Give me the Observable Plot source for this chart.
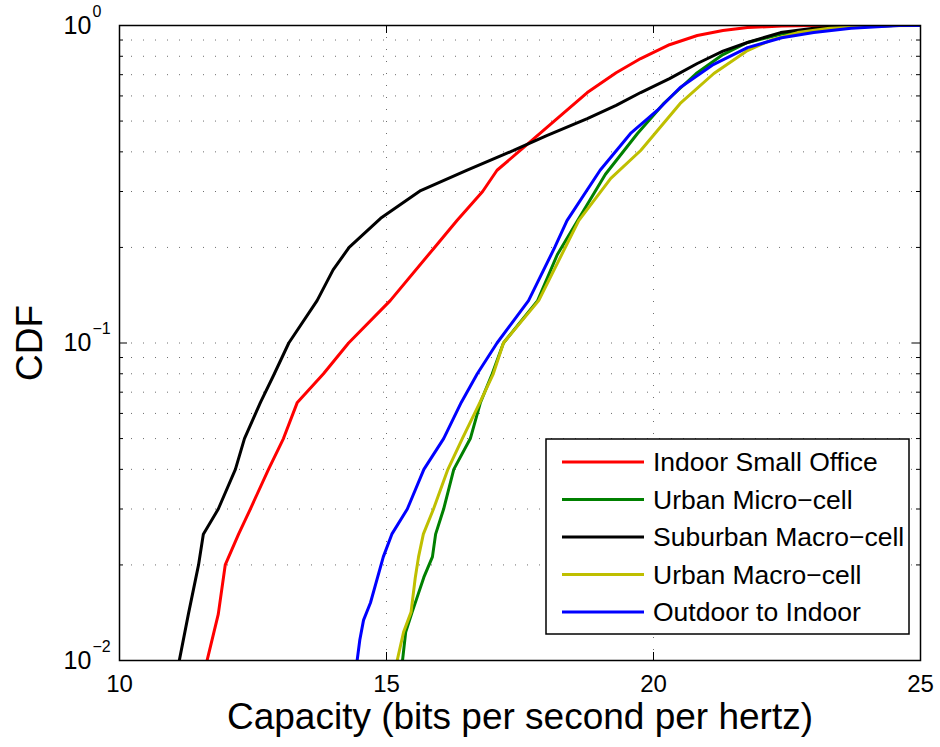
<!DOCTYPE html>
<html>
<head>
<meta charset="utf-8">
<script src="https://cdn.jsdelivr.net/npm/d3@7"></script>
<script src="https://cdn.jsdelivr.net/npm/@observablehq/plot@0.6"></script>
<style>
  html, body { margin: 0; padding: 0; background: white; }
</style>
</head>
<body>
<div id="chart"></div>
<script>
const seriesNames = ["Indoor Small Office", "Urban Micro\u2212cell", "Suburban Macro\u2212cell", "Urban Macro\u2212cell", "Outdoor to Indoor"];
const seriesColors = ["#ff0000", "#008000", "#000000", "#bfbf00", "#0000ff"];

// [capacity, CDF]
const indoorSmallOffice = [
  [11.6, 0.009], [11.64, 0.01], [11.85, 0.014], [11.98, 0.02], [12.23, 0.025], [12.45, 0.03],
  [12.79, 0.04], [13.07, 0.05], [13.33, 0.065], [13.82, 0.08], [14.29, 0.1], [15.07, 0.136],
  [15.9, 0.2], [16.32, 0.243], [16.8, 0.3], [17.07, 0.35], [17.57, 0.413], [18.2, 0.51],
  [18.76, 0.615], [19.3, 0.71], [19.76, 0.787], [20.3, 0.87], [20.82, 0.93], [21.3, 0.965],
  [21.76, 0.985], [22.4, 0.997], [23.0, 1.0], [25.0, 1.0]
];
const urbanMicroCell = [
  [15.28, 0.009], [15.3, 0.01], [15.36, 0.0123], [15.48, 0.0142], [15.6, 0.0163], [15.7, 0.0183],
  [15.86, 0.0212], [15.92, 0.025], [16.07, 0.03], [16.26, 0.04], [16.57, 0.05], [16.76, 0.065],
  [16.98, 0.08], [17.19, 0.1], [17.83, 0.136], [18.2, 0.19], [18.58, 0.243], [19.1, 0.34],
  [19.7, 0.457], [20.2, 0.57], [20.8, 0.706], [21.3, 0.81], [21.76, 0.884], [22.4, 0.94],
  [23.0, 0.97], [23.8, 0.99], [24.5, 1.0], [25.0, 1.0]
];
const suburbanMacroCell = [
  [11.05, 0.009], [11.12, 0.01], [11.29, 0.014], [11.48, 0.02], [11.57, 0.025], [11.85, 0.03],
  [12.17, 0.04], [12.34, 0.05], [12.64, 0.065], [12.9, 0.08], [13.17, 0.1], [13.7, 0.136],
  [14.0, 0.17], [14.3, 0.2], [14.89, 0.247], [15.64, 0.302], [16.5, 0.35], [17.38, 0.404],
  [18.0, 0.45], [18.76, 0.509], [19.3, 0.56], [19.76, 0.615], [20.3, 0.68], [20.82, 0.759],
  [21.3, 0.83], [21.76, 0.884], [22.38, 0.95], [23.0, 0.98], [23.7, 0.995], [24.5, 1.0], [25.0, 1.0]
];
const urbanMacroCell = [
  [15.12, 0.0095], [15.2, 0.01], [15.32, 0.0123], [15.46, 0.0142], [15.54, 0.0183], [15.6, 0.0212],
  [15.69, 0.025], [15.88, 0.03], [16.15, 0.04], [16.42, 0.05], [16.75, 0.065], [17.0, 0.08],
  [17.19, 0.1], [17.85, 0.136], [18.6, 0.243], [19.2, 0.33], [19.76, 0.404], [20.5, 0.568],
  [21.13, 0.706], [21.76, 0.834], [22.2, 0.9], [22.7, 0.95], [23.3, 0.98], [24.2, 0.998], [25.0, 1.0]
];
const outdoorToIndoor = [
  [14.43, 0.009], [14.45, 0.01], [14.5, 0.0116], [14.57, 0.0134], [14.7, 0.0152], [14.94, 0.0212],
  [15.1, 0.025], [15.39, 0.03], [15.7, 0.04], [16.07, 0.05], [16.4, 0.065], [16.7, 0.08],
  [17.07, 0.1], [17.66, 0.136], [18.15, 0.2], [18.38, 0.243], [19.0, 0.35], [19.57, 0.457],
  [20.07, 0.54], [20.5, 0.638], [21.1, 0.75], [21.76, 0.852], [22.4, 0.915], [23.0, 0.95],
  [23.7, 0.98], [24.6, 1.0], [25.0, 1.0]
];

const xTicks = [10, 15, 20, 25];
const xGrid = [15, 20];
const yMajor = [1, 0.1, 0.01];
const yExponents = ["0", "\u22121", "\u22122"];
const yMinor = [0.02, 0.03, 0.04, 0.05, 0.06, 0.07, 0.08, 0.09, 0.2, 0.3, 0.4, 0.5, 0.6, 0.7, 0.8, 0.9];
const xLabel = "Capacity (bits per second per hertz)";
const yLabel = "CDF";

const allSeries = [indoorSmallOffice, urbanMicroCell, suburbanMacroCell, urbanMacroCell, outdoorToIndoor];
const rows = allSeries.flatMap((s, i) => s.map(([x, p]) => ({series: seriesNames[i], x, p})));

const W = 940, H = 747, ML = 119, MR = 20, MT = 25, MB = 87;
const FW = W - ML - MR, FH = H - MT - MB;
const font = "'Liberation Sans', Arial, Helvetica, sans-serif";
const gridStyle = {stroke: "#6e6e6e", strokeWidth: 1, strokeDasharray: "1,11"};

const chart = Plot.plot({
  width: W, height: H,
  marginLeft: ML, marginRight: MR, marginTop: MT, marginBottom: MB,
  style: {fontFamily: font, background: "white", overflow: "visible", color: "black"},
  x: {domain: [10, 25], axis: null},
  y: {type: "log", domain: [0.01, 1], axis: null},
  color: {domain: seriesNames, range: seriesColors},
  marks: [
    Plot.ruleX(xGrid, gridStyle),
    Plot.ruleY([...yMinor, 0.1], gridStyle),
    Plot.line(rows, {x: "x", y: "p", z: "series", stroke: "series", strokeWidth: 3, clip: true, strokeLinejoin: "round"}),
    Plot.ruleX(xTicks, {stroke: "black", strokeWidth: 1, insetTop: FH - 8}),
    Plot.ruleX(xTicks, {stroke: "black", strokeWidth: 1, insetBottom: FH - 8}),
    Plot.ruleY(yMajor, {stroke: "black", strokeWidth: 1, insetRight: FW - 8}),
    Plot.ruleY(yMajor, {stroke: "black", strokeWidth: 1, insetLeft: FW - 8}),
    Plot.ruleY(yMinor, {stroke: "black", strokeWidth: 1, insetRight: FW - 4}),
    Plot.ruleY(yMinor, {stroke: "black", strokeWidth: 1, insetLeft: FW - 4}),
    Plot.frame({stroke: "black", strokeWidth: 1.5}),
    Plot.text(xTicks, {x: d => d, frameAnchor: "bottom", dy: 24, text: d => String(d), fontSize: 24, lineAnchor: "middle", textAnchor: "middle", fill: "black"}),
    Plot.text(yMajor, {y: d => d, frameAnchor: "left", dx: -56, text: () => "10", fontSize: 25, lineAnchor: "middle", textAnchor: "start", fill: "black"}),
    Plot.text(yMajor, {y: d => d, frameAnchor: "left", dx: -27, dy: -14, text: (d, i) => yExponents[i], fontSize: 16, lineAnchor: "middle", textAnchor: "start", fill: "black"}),
    Plot.text([xLabel], {frameAnchor: "bottom", dy: 57, text: d => d, fontSize: 37, lineAnchor: "middle", textAnchor: "middle", fill: "black"}),
    Plot.text([yLabel], {frameAnchor: "left", dx: -89, rotate: -90, text: d => d, fontSize: 37, lineAnchor: "middle", textAnchor: "middle", fill: "black"})
  ]
});

// Legend box inside the plot (MATLAB-style)
const svg = d3.select(chart);
const lg = svg.append("g").attr("font-family", font).attr("text-anchor", "start");
const bx = 546, by = 439, bw = 363, bh = 195;
lg.append("rect").attr("x", bx).attr("y", by).attr("width", bw).attr("height", bh)
  .attr("fill", "white").attr("stroke", "black").attr("stroke-width", 1.5);
seriesNames.forEach((name, i) => {
  const ry = by + 23 + i * 37.5;
  lg.append("line").attr("x1", bx + 16).attr("x2", bx + 98).attr("y1", ry).attr("y2", ry)
    .attr("stroke", seriesColors[i]).attr("stroke-width", 3);
  lg.append("text").attr("x", bx + 107).attr("y", ry).attr("dy", "0.35em")
    .attr("text-anchor", "start").attr("font-size", 26.5).attr("fill", "black").text(name);
});

document.getElementById("chart").appendChild(chart);
</script>
</body>
</html>
